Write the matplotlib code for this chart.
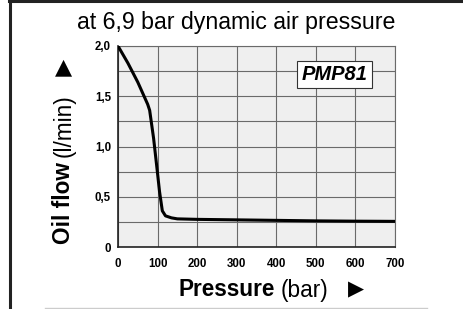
import matplotlib
matplotlib.use("Agg")
import matplotlib.pyplot as plt
from matplotlib.lines import Line2D

pressure = [0, 25, 50, 75, 80, 90, 98, 105, 112, 120, 135, 150, 200, 300, 400, 500, 600, 700]
oil_flow = [2.0, 1.83, 1.64, 1.42, 1.36, 1.08, 0.80, 0.55, 0.36, 0.31, 0.29, 0.28, 0.275, 0.27, 0.265, 0.26, 0.257, 0.255]
x_ticks = [0, 100, 200, 300, 400, 500, 600, 700]
y_ticks = [0, 0.5, 1.0, 1.5, 2.0]
y_tick_labels = ["0", "0,5", "1,0", "1,5", "2,0"]

plt.rcParams['font.family'] = ['Liberation Sans', 'DejaVu Sans']

W, H = 464, 309
fig = plt.figure(figsize=(W / 100, H / 100), dpi=100)
fig.patch.set_facecolor('white')

def fx(px):
    return px / W

def fy(py):
    return 1 - py / H

ax = fig.add_axes([fx(118), fy(247), fx(395) - fx(118), fy(46) - fy(247)])
ax.set_facecolor('#efefef')
ax.plot(pressure, oil_flow, color='black', lw=2.2, solid_capstyle='round', solid_joinstyle='round', zorder=3)
ax.set_xlim(0, 700)
ax.set_ylim(0, 2.0)
ax.set_xticks(x_ticks)
ax.set_xticklabels([str(v) for v in x_ticks], fontsize=8.3, fontweight='bold')
ax.set_yticks(y_ticks)
ax.set_yticklabels(y_tick_labels, fontsize=8.3, fontweight='bold')
ax.set_yticks([0.25, 0.75, 1.25, 1.75], minor=True)
ax.tick_params(axis='x', which='both', length=0, pad=8)
ax.tick_params(axis='y', which='both', length=0, pad=5)
ax.grid(True, which='both', color='#6a6a6a', lw=0.8)
ax.set_axisbelow(True)
for s in ax.spines.values():
    s.set_color('#6a6a6a')
    s.set_linewidth(0.8)
ax.spines['left'].set_color('#222222')
ax.spines['bottom'].set_color('#222222')
ax.spines['left'].set_linewidth(1.2)
ax.spines['bottom'].set_linewidth(1.2)

ax.text(548, 1.716, "PMP81", fontsize=14.5, fontweight='bold', fontstyle='italic',
        ha='center', va='center', zorder=4,
        bbox=dict(boxstyle='square,pad=0.22', fc='white', ec='#333333', lw=0.8))

fig.text(fx(236), fy(22), "at 6,9 bar dynamic air pressure", fontsize=16.7, ha='center', va='center')

renderer = fig.canvas.get_renderer()

# y label: "Oil flow" bold then "(l/min)" normal, rotated
t1 = fig.text(fx(64), fy(244), "Oil flow", rotation=90, fontsize=16.3, fontweight='bold',
              ha='center', va='bottom')
bb = t1.get_window_extent(renderer)
top_px = H - bb.y1
fig.text(fx(64), fy(top_px - 5), "(l/min)", rotation=90, fontsize=16.3, ha='center', va='bottom')
fig.text(fx(64), fy(67), "\u25B2", fontsize=16, ha='center', va='center', family=['DejaVu Sans'])

# x label
t2 = fig.text(fx(178), fy(290), "Pressure", fontsize=16.3, fontweight='bold', ha='left', va='center')
bb2 = t2.get_window_extent(renderer)
fig.text(fx(bb2.x1 + 6), fy(290), "(bar)", fontsize=16.3, ha='left', va='center')
fig.text(fx(356), fy(289), "\u25B6", fontsize=15, ha='center', va='center', family=['DejaVu Sans'])

fig.add_artist(Line2D([fx(10), fx(10)], [0, 1], color='#222222', lw=2.2))
fig.add_artist(Line2D([fx(9), 1], [fy(1), fy(1)], color='#222222', lw=2.2))
fig.add_artist(Line2D([fx(45), fx(427)], [fy(307.5), fy(307.5)], color='#cccccc', lw=1))

fig.savefig("out.png", dpi=100)
